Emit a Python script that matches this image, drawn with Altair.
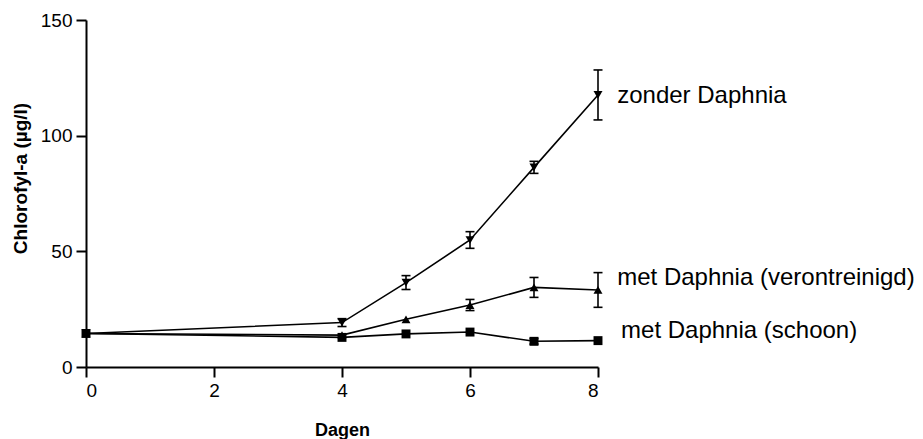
import altair as alt
import pandas as pd

days = [0, 4, 5, 6, 7, 8]
series_names = ["zonder Daphnia", "met Daphnia (verontreinigd)", "met Daphnia (schoon)"]
zonder = [14.5, 19.2, 36.5, 54.9, 86.3, 117.6]
zonder_err = [0, 1.7, 3.0, 3.6, 2.6, 10.8]
verontreinigd = [14.5, 13.8, 20.6, 26.8, 34.4, 33.3]
verontreinigd_err = [0, 0, 0, 2.4, 4.3, 7.5]
schoon = [14.5, 12.8, 14.3, 15.1, 11.1, 11.4]
schoon_err = [0, 0, 0, 0, 1.2, 0]

label_x = [8.30, 8.30, 8.36]
label_y = [114.0, 35.6, 12.5]

x_ticks = [0, 2, 4, 6, 8]
y_ticks = [0, 50, 100, 150]

rows = []
for name, vals, errs in zip(series_names, [zonder, verontreinigd, schoon],
                            [zonder_err, verontreinigd_err, schoon_err]):
    for d, v, e in zip(days, vals, errs):
        rows.append({"day": d, "value": v, "err": e, "series": name})
df = pd.DataFrame(rows)
labels = pd.DataFrame({"label": series_names, "lx": label_x, "ly": label_y})

FONT = "Liberation Sans"

xscale = alt.Scale(domain=[0, 8], nice=False)
yscale = alt.Scale(domain=[0, 150], nice=False)

x_axis = alt.Axis(values=x_ticks, format="d", title="Dagen", titleFontWeight="bold",
                  titleFontSize=18, titleY=68, titleBaseline="alphabetic",
                  labelPadding=4, grid=False)
y_axis = alt.Axis(values=y_ticks, format="d", title="Chlorofyl-a (µg/l)",
                  titleFontWeight="bold", titleFontSize=19, titleAngle=270,
                  titleAlign="center", titleBaseline="alphabetic", titleX=-60,
                  titleY=158, labelPadding=4, grid=False)

base = alt.Chart(df)

lines = base.mark_line(color="black", strokeWidth=1.6).encode(
    x=alt.X("day:Q", scale=xscale, axis=x_axis),
    y=alt.Y("value:Q", scale=yscale, axis=y_axis),
    detail="series:N",
)

points = base.mark_point(filled=True, color="black", opacity=1).encode(
    x=alt.X("day:Q", scale=xscale),
    y=alt.Y("value:Q", scale=yscale),
    shape=alt.Shape("series:N",
                    scale=alt.Scale(domain=series_names,
                                    range=["triangle-down", "triangle-up", "square"]),
                    legend=None),
    size=alt.Size("series:N",
                  scale=alt.Scale(domain=series_names, range=[80, 80, 55]),
                  legend=None),
)

eb = base.transform_filter("datum.err > 0").transform_calculate(
    lo="datum.value - datum.err", hi="datum.value + datum.err")

err_rules = eb.mark_rule(color="black", strokeWidth=1.6).encode(
    x=alt.X("day:Q", scale=xscale),
    y=alt.Y("lo:Q", scale=yscale),
    y2="hi:Q",
)
cap_lo = eb.mark_tick(color="black", orient="horizontal", size=9, thickness=1.6, opacity=1).encode(
    x=alt.X("day:Q", scale=xscale),
    y=alt.Y("lo:Q", scale=yscale),
)
cap_hi = eb.mark_tick(color="black", orient="horizontal", size=9, thickness=1.6, opacity=1).encode(
    x=alt.X("day:Q", scale=xscale),
    y=alt.Y("hi:Q", scale=yscale),
)

texts = alt.Chart(labels).mark_text(align="left", baseline="alphabetic", fontSize=24,
                                    font=FONT, color="black").encode(
    x=alt.X("lx:Q", scale=xscale),
    y=alt.Y("ly:Q", scale=yscale),
    text="label:N",
)

chart = alt.layer(lines, err_rules, cap_lo, cap_hi, points, texts).properties(
    width=512, height=347,
    autosize=alt.AutoSizeParams(type="none"),
    padding={"left": 86, "top": 20, "right": 325, "bottom": 72},
    background="white",
).configure_view(stroke=None).configure_axis(
    domainColor="black", domainWidth=2, tickColor="black", tickWidth=2, tickSize=10,
    labelColor="black", titleColor="black", labelFont=FONT, titleFont=FONT,
    labelFontSize=19,
)

chart.save("out.html", embed_options={"renderer": "svg", "actions": False})
